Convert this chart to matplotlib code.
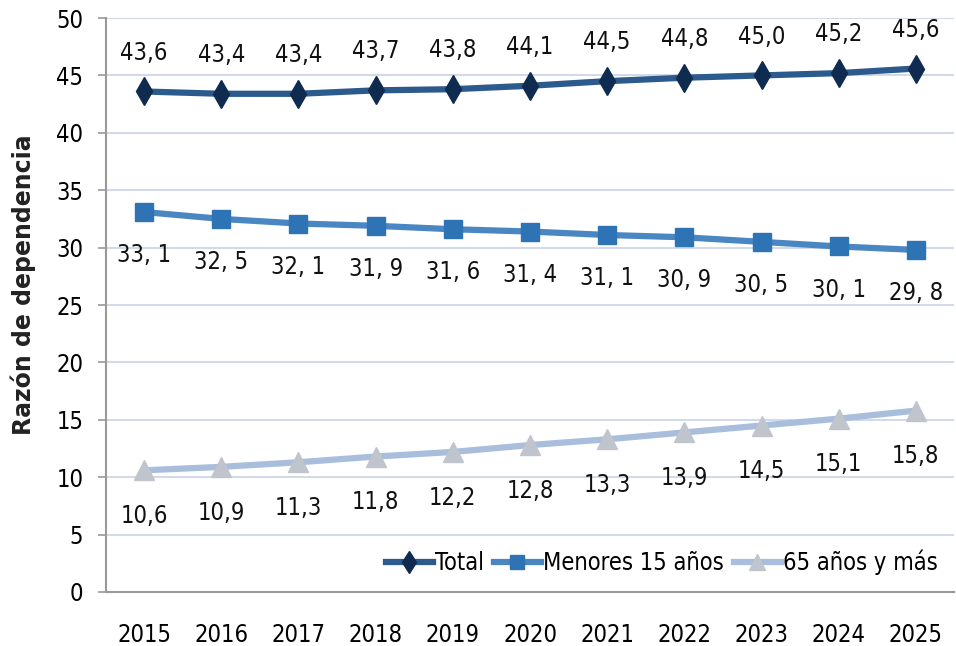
import matplotlib
matplotlib.use("Agg")
from matplotlib import pyplot

years = [2015, 2016, 2017, 2018, 2019, 2020, 2021, 2022, 2023, 2024, 2025]
total = [43.6, 43.4, 43.4, 43.7, 43.8, 44.1, 44.5, 44.8, 45.0, 45.2, 45.6]
menores = [33.1, 32.5, 32.1, 31.9, 31.6, 31.4, 31.1, 30.9, 30.5, 30.1, 29.8]
mayores = [10.6, 10.9, 11.3, 11.8, 12.2, 12.8, 13.3, 13.9, 14.5, 15.1, 15.8]
yticks = [0, 5, 10, 15, 20, 25, 30, 35, 40, 45, 50]

pyplot.rcParams['font.family'] = ['DejaVu Sans']
pyplot.rcParams['font.stretch'] = 'condensed'

fig = pyplot.figure(figsize=(9.56, 6.46), dpi=100)
ax = fig.add_axes([0.1104, 0.0836, 0.888, 0.8885])

x = list(range(len(years)))

def comma(v, sep=','):
    return f"{v:.1f}".replace('.', sep)

# values, line colour, marker, marker colour, marker size, label, label offset, decimal sep
series = [
    (total, '#2d5a8c', 'd', '#0f2b50', 14, 'Total', 28, ','),
    (menores, '#4a86c2', 's', '#2e74b5', 13, 'Menores 15 años', -31, ', '),
    (mayores, '#a9bedc', '^', '#c0c5cd', 14, '65 años y más', -33, ','),
]

for vals, lc, mk, mc, ms, label, dy, sep in series:
    ax.plot(x, vals, '-', color=lc, lw=4.5, marker=mk, ms=ms, mfc=mc, mec=mc, label=label, zorder=3)
    for xi, v in zip(x, vals):
        ax.annotate(comma(v, sep), (xi, v), xytext=(0, dy), textcoords='offset points',
                    ha='center', va='center', fontsize=17, color='#111111')

ax.set_xlim(-0.5, len(years) - 0.5)
ax.set_ylim(0, 50)
ax.set_yticks(yticks)
ax.set_xticks(x, labels=[str(y) for y in years])
ax.tick_params(axis='y', labelsize=17, length=6, color='#9a9a9a', width=1.2, pad=10)
ax.tick_params(axis='x', labelsize=17, length=0, pad=22)
ax.grid(axis='y', color='#c9d2e6', lw=1.2)
ax.set_axisbelow(True)
for side in ['top', 'right']:
    ax.spines[side].set_visible(False)
for side in ['left', 'bottom']:
    ax.spines[side].set_color('#999999')
    ax.spines[side].set_linewidth(1.5)

ax.legend(loc='lower right', bbox_to_anchor=(1.0, 0.0), ncol=3, frameon=False, fontsize=17,
          handlelength=2.0, columnspacing=0.4, handletextpad=0.1, borderaxespad=0.3,
          markerscale=0.8)

fig.text(0.024, 0.559, 'Razón de dependencia', rotation=90, ha='center', va='center',
         fontsize=17, fontweight='bold', stretch='normal', color='#222222')

fig.savefig('out.png', dpi=100)
